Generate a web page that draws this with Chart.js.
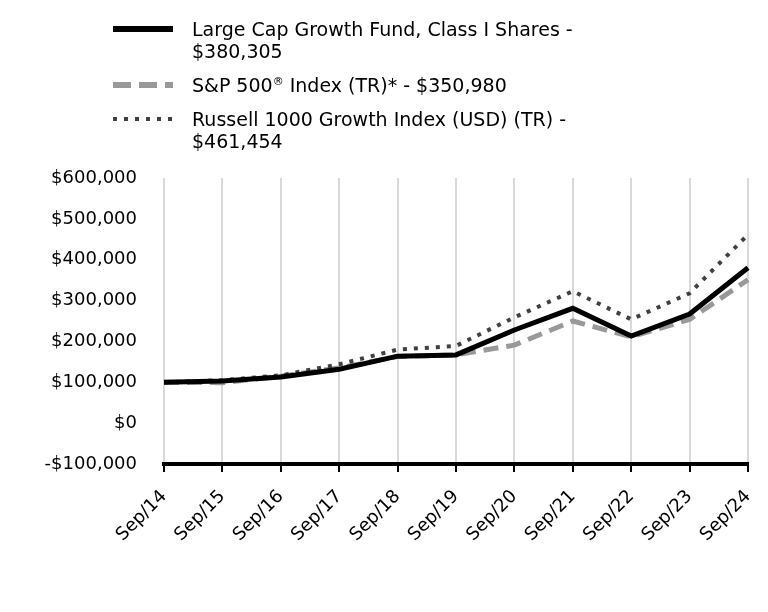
<!DOCTYPE html>
<html>
<head>
<meta charset="utf-8">
<script src="https://cdn.jsdelivr.net/npm/chart.js@4.4.1/dist/chart.umd.min.js"></script>
<style>
  html, body { margin: 0; padding: 0; background: #fff; }
  body { width: 768px; height: 612px; position: relative; overflow: hidden; font-family: "DejaVu Sans", sans-serif; color: #000; }
  #wrap { position: absolute; left: 0; top: 0; width: 768px; height: 612px; }
  #legend { position: absolute; left: 113px; top: 18px; font-size: 19px; line-height: 22px; }
  .item { display: flex; align-items: flex-start; margin-bottom: 12px; }
  .sample { width: 60px; height: 22px; margin-right: 19px; flex: none; }
</style>
</head>
<body>
<div id="wrap"><canvas id="chart" width="768" height="612"></canvas></div>
<div id="legend"></div>
<script>
(function () {
  'use strict';

  // --- data ---
  var labels = ['Sep/14', 'Sep/15', 'Sep/16', 'Sep/17', 'Sep/18', 'Sep/19', 'Sep/20', 'Sep/21', 'Sep/22', 'Sep/23', 'Sep/24'];
  var fundValues = [100000, 103000, 113000, 132000, 164000, 167000, 228000, 281000, 213000, 267000, 380305];
  var sp500Values = [100000, 99000, 115000, 135000, 163000, 167000, 191000, 250000, 211000, 254000, 350980];
  var russellValues = [100000, 105000, 117000, 144000, 180000, 189000, 259000, 323000, 254000, 318000, 461454];
  var yTicks = [-100000, 0, 100000, 200000, 300000, 400000, 500000, 600000];

  var seriesNames = [
    ['Large Cap Growth Fund, Class I Shares -', '$380,305'],
    ['S&P 500<sup style="font-size:11px;line-height:0">®</sup> Index (TR)* - $350,980'],
    ['Russell 1000 Growth Index (USD) (TR) -', '$461,454']
  ];
  var styles = [
    { color: '#000000', width: 5, dash: [] },
    { color: '#999999', width: 5, dash: [15, 8] },
    { color: '#404040', width: 4, dash: [4, 7] }
  ];

  function money(v) {
    var s = '$' + Math.abs(v).toLocaleString('en-US');
    return v < 0 ? '-' + s : s;
  }

  // --- HTML legend ---
  var legend = document.getElementById('legend');
  seriesNames.forEach(function (lines, i) {
    var st = styles[i];
    var item = document.createElement('div');
    item.className = 'item';
    var sample = document.createElement('canvas');
    sample.className = 'sample';
    sample.width = 60; sample.height = 22;
    var c = sample.getContext('2d');
    c.strokeStyle = st.color;
    c.lineWidth = st.width + (i === 2 ? 0 : 1);
    c.setLineDash(i === 1 ? [18, 8] : st.dash);
    c.beginPath(); c.moveTo(0, 11); c.lineTo(60, 11); c.stroke();
    var txt = document.createElement('div');
    txt.innerHTML = lines.join('<br>');
    item.appendChild(sample);
    item.appendChild(txt);
    legend.appendChild(item);
  });

  var datasets = [fundValues, sp500Values, russellValues].map(function (vals, i) {
    var st = styles[i];
    return {
      data: vals,
      borderColor: st.color,
      borderWidth: st.width,
      borderDash: st.dash,
      pointRadius: 0,
      tension: 0,
      fill: false
    };
  });
  // draw fund on top
  datasets[0].order = 0; datasets[1].order = 2; datasets[2].order = 1;

  var font = { family: '"DejaVu Sans", sans-serif', size: 18 };

  new Chart(document.getElementById('chart').getContext('2d'), {
    type: 'line',
    data: { labels: labels, datasets: datasets },
    options: {
      responsive: false,
      animation: false,
      layout: { padding: { top: 178, right: 20, bottom: 0, left: 0 } },
      plugins: { legend: { display: false }, tooltip: { enabled: false } },
      scales: {
        x: {
          offset: false,
          grid: { color: '#d9d9d9', lineWidth: 2, tickColor: '#000', tickWidth: 2, tickLength: 8 },
          border: { color: '#000', width: 4 },
          ticks: { color: '#000', font: font, maxRotation: 45, minRotation: 45, autoSkip: false, padding: 14 },
          afterFit: function (s) { s.height = 148; s.paddingLeft = 0; s.paddingRight = 0; }
        },
        y: {
          min: -100000,
          max: 600000,
          afterBuildTicks: function (s) { s.ticks = yTicks.map(function (v) { return { value: v }; }); },
          grid: { display: false },
          border: { display: false },
          ticks: { color: '#000', font: font, padding: 19, callback: function (v) { return money(v); } },
          afterFit: function (s) { s.width = 164; }
        }
      }
    }
  });
})();
</script>
</body>
</html>
